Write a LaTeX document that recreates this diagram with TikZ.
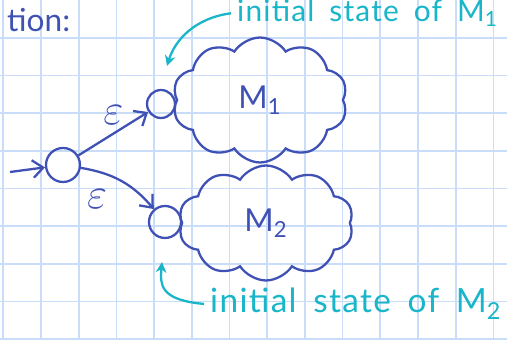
\documentclass[tikz,border=0pt]{standalone}
\usepackage{fontspec}
\setmainfont{Lato}
\newfontfamily\notefam[LetterSpace=4]{Lato}
\usetikzlibrary{positioning, arrows.meta, shapes.symbols}

\definecolor{ink}{HTML}{3F51B5}
\definecolor{note}{HTML}{19B5C9}
\definecolor{paper}{HTML}{CADDF8}

\DeclareRobustCommand\widewords{\spaceskip=0.5em plus 0.1em\relax}

\begin{document}
\begin{tikzpicture}[
  x=0.02cm, y=-0.02cm,
  font=\fontsize{18}{21}\selectfont,
  gridline/.style={draw=paper, line width=1pt},
  state/.style={
    draw=ink, circle, line width=1.3pt, inner sep=0pt
  },
  machine/.style={
    draw=ink, cloud, cloud puffs=10, cloud puff arc=115,
    line width=1.3pt, text=ink, inner sep=0pt
  },
  edge/.style={
    draw=ink, line width=1.3pt, -{Straight Barb[length=6pt, width=10pt]}
  },
  eps/.style={text=ink, font=\fontsize{24}{26}\selectfont},
  remark/.style={text=note, font=\notefam\fontsize{19}{22}\selectfont\widewords},
  pointer/.style={draw=note, line width=1.3pt, -{Stealth[length=6pt, width=6pt]}},
]
\useasboundingbox (0,0) rectangle (507,340);
\fill[white] (0,0) rectangle (507,340);

% squared paper
\foreach \i in {0,...,13}
  \draw[gridline] (3.3+37.7*\i, 0) -- (3.3+37.7*\i, 340);
\foreach \j in {1,...,9}
  \draw[gridline] (0, 37.7*\j) -- (507, 37.7*\j);

\node[text=ink, anchor=base west] (heading) at (1,32) {tion:};

% the two machines
\node[machine, minimum width=3.5cm, minimum height=2.5cm] (m1) at (260,100) {M\textsubscript{1}\hspace{8pt}};
\node[machine, minimum width=3.5cm, minimum height=2.3cm] (m2) at (266,223) {M\textsubscript{2}\hspace{36pt}};

% states
\node[state, minimum size=0.68cm] (q0) at (63,165) {};
\node[state, minimum size=0.56cm] (q1) at (161,104) {};
\node[state, minimum size=0.64cm] (q2) at (165,222) {};

\coordinate (start) at (10,172);
\draw[edge] (start) -- (q0);
\draw[edge] (q0) -- node[above=1pt, eps] {$\varepsilon$} (q1);
\draw[edge] (q0) to[bend left=20] node[pos=0.45, below left=3pt, eps] {$\varepsilon$} (q2);

% notes
\node[remark, font=\notefam\fontsize{17}{20}\selectfont\widewords, anchor=base west] (lblone) at (231,22) {initial state of M\textsubscript{1}};
\node[remark, anchor=base west] (lbltwo) at (204,313) {initial state of M\textsubscript{2}};

\coordinate (tipone) at (167,66);
\coordinate (tiptwo) at (162,262);
\draw[pointer] (lblone.west) .. controls (195,18) and (175,40) .. (tipone);
\draw[pointer] (lbltwo.west) .. controls (160,300) and (160,285) .. (tiptwo);

\end{tikzpicture}
\end{document}
